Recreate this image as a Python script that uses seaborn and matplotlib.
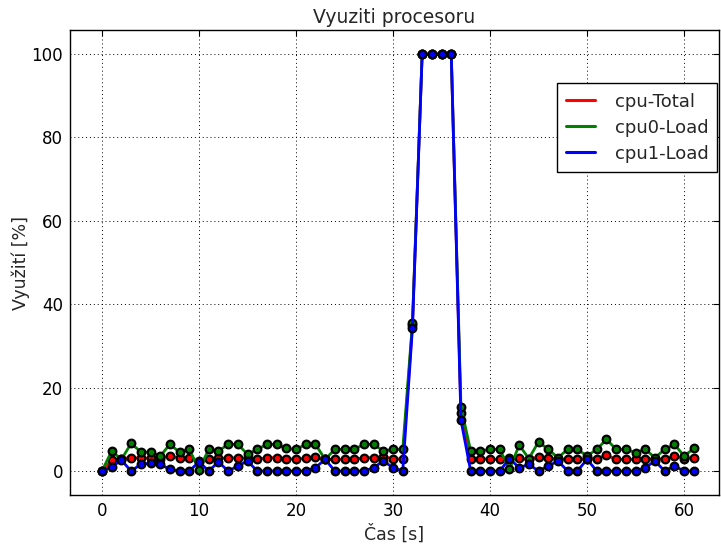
import numpy as np
import pandas as pd
import seaborn as sns
import matplotlib
matplotlib.use("Agg")
from matplotlib import pyplot as plt
from matplotlib.lines import Line2D

# cas [s]
cas = list(range(62))

cpu_total = [0, 2.6, 3.0, 3.2, 3.1, 3.1, 3.0, 3.6, 3.1, 3.1,
             2.4, 2.9, 3.1, 3.1, 3.2, 3.1, 2.8, 3.2, 3.2, 3.0,
             2.8, 3.1, 3.4, 2.8, 2.8, 2.8, 2.8, 3.2, 3.2, 3.4,
             3.0, 2.8, 35.0, 100, 100, 100, 100, 13.8, 3.0, 3.0,
             2.8, 2.8, 3.2, 3.1, 2.8, 3.4, 3.1, 2.8, 2.8, 2.8,
             3.0, 3.0, 3.8, 2.8, 2.8, 2.8, 2.8, 2.9, 2.8, 3.6,
             3.0, 3.2]
cpu0_load = [0, 4.8, 2.8, 6.6, 4.6, 4.5, 3.6, 6.4, 4.5, 5.2,
             0.3, 5.2, 4.8, 6.4, 6.4, 4.0, 5.2, 6.4, 6.4, 5.4,
             5.2, 6.4, 6.4, 2.8, 5.2, 5.2, 5.2, 6.4, 6.4, 4.8,
             5.2, 5.2, 35.5, 100, 100, 100, 100, 15.4, 4.8, 4.8,
             5.2, 5.2, 0.4, 6.2, 3.0, 7.0, 5.2, 3.2, 5.2, 5.2,
             3.6, 5.2, 7.6, 5.2, 5.2, 4.4, 5.2, 3.2, 5.2, 6.4,
             3.6, 5.4]
cpu1_load = [0, 1.0, 2.6, 0, 1.6, 1.9, 1.6, 0.4, 0, 0,
             2.2, 0, 2.2, 0, 1.2, 2.4, 0, 0, 0, 0,
             0, 0, 0.8, 2.8, 0, 0, 0, 0, 0.8, 2.4,
             0.8, 0, 34.3, 100, 100, 100, 100, 12.2, 0, 0,
             0, 0, 3.0, 0.8, 1.6, 0, 1.2, 2.4, 0, 0,
             2.8, 0, 0, 0, 0, 0, 0.8, 2.4, 0, 1.2,
             0, 0]

serie = [("cpu-Total", cpu_total, "red"),
         ("cpu0-Load", cpu0_load, "green"),
         ("cpu1-Load", cpu1_load, "blue")]

sns.set_style("white")
plt.rcParams.update({
    "font.family": ["DejaVu Sans"],
    "xtick.direction": "in", "ytick.direction": "in",
    "xtick.top": True, "ytick.right": True,
    "xtick.major.size": 4, "ytick.major.size": 4,
    "axes.edgecolor": "black", "axes.linewidth": 1.0,
})

fig = plt.figure(figsize=(7.21, 5.45), dpi=100)
ax = fig.add_axes([70 / 721, 50 / 545, 649 / 721, 465 / 545])

handles = []
for name, vals, col in serie:
    sns.lineplot(x=cas, y=vals, ax=ax, color=col, linewidth=2, sort=False,
                 marker="o", markersize=5.5, markerfacecolor=col,
                 markeredgecolor="black", markeredgewidth=1.6, legend=False)
    handles.append(Line2D([], [], color=col, linewidth=2.2, label=name))

ax.set_xlim(-3.3, 63.6)
ax.set_ylim(-5.75, 105.75)
ax.set_xticks(range(0, 61, 10))
ax.set_yticks(range(0, 101, 20))
ax.grid(True, color="black", linestyle=(0, (1, 3)), linewidth=0.7)
ax.tick_params(colors="black", labelsize=12, pad=5)

ax.set_title("Vyuziti procesoru", fontsize=13.5, pad=5)
ax.set_xlabel("Čas [s]", fontsize=12.5, labelpad=3)
ax.set_ylabel("Využití [%]", fontsize=12.5, labelpad=1)

leg = ax.legend(handles=handles, loc="upper left", bbox_to_anchor=(0.75, 0.885),
                borderaxespad=0, fontsize=13, frameon=True, fancybox=False,
                edgecolor="black", framealpha=1, handlelength=1.6,
                handletextpad=1.1, borderpad=0.5, labelspacing=0.45)
leg.get_frame().set_linewidth(1.0)

fig.savefig("out.png", dpi=100, facecolor="white")
